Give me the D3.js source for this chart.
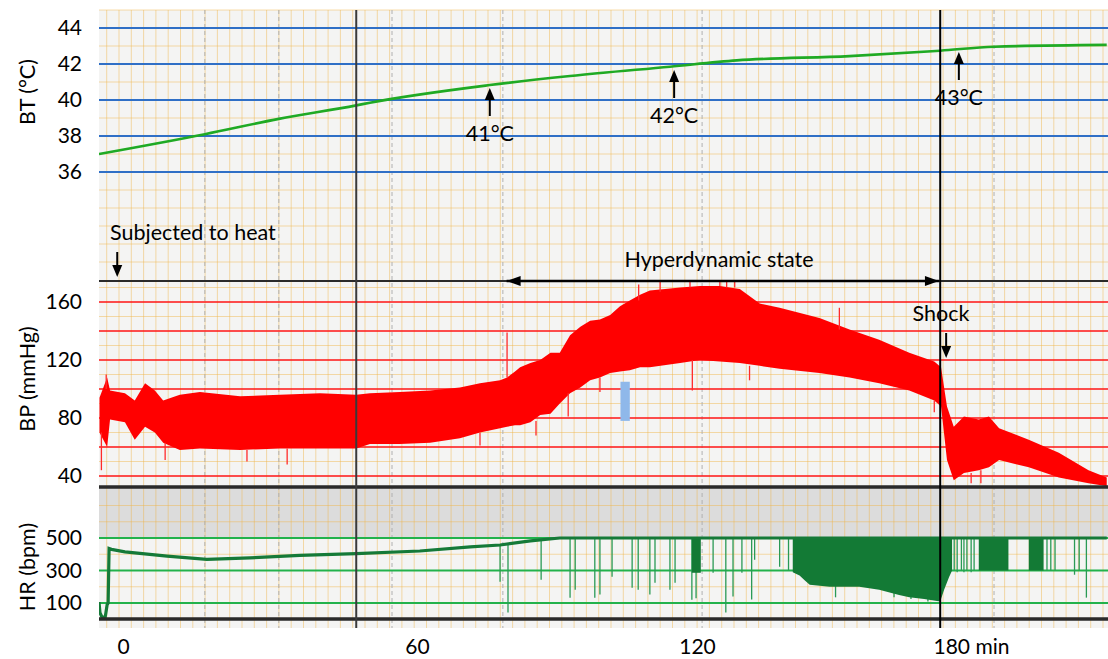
<!DOCTYPE html>
<html>
<head>
<meta charset="utf-8">
<script src="https://cdn.jsdelivr.net/npm/d3@7"></script>
<style>
  body { margin: 0; background: #fff; }
  text { font-family: Lato, "Open Sans", sans-serif; fill: #000; }
</style>
</head>
<body>
<svg id="chart" width="1108" height="659"></svg>
<script>
// ---- data (time in minutes after heating started) ----
const timeTicks = [0, 60, 120, 180];

const btTicks = [44, 42, 40, 38, 36];
const btTime  = [-5, 16.7, 31.8, 47.6, 50.4, 75.6, 92.8, 114.2, 129.4, 156, 177.4, 190.1, 216.7];
const btValue = [37.0, 38.1, 38.95, 39.7, 39.85, 40.83, 41.33, 41.85, 42.2, 42.44, 42.74, 42.96, 43.06];

const bpTicks = [160, 120, 80, 40];
const bpTime = [-4.9, -3.3, -2.7, 0.4, 2.4, 4.5, 6.5, 8.2, 11.6, 15.7, 23.9, 32.0, 40.2, 47.6, 50.4, 56.5, 62.8, 69.2, 73.5, 77.8,
  79.3, 81.0, 82.1, 84.3, 86.4, 88.6, 90.6, 92.8, 95.0, 97.1, 99.2, 101.4, 103.5, 105.6, 107.8, 109.9, 116.4, 120.7, 125.4,
  130.1, 134.8, 139.5, 148.9, 156.0, 163.0, 170.1,
  176.0, 177.6, 179.0, 180.6, 183.0, 186.5, 188.9, 191.3, 198.3, 205.4, 212.4, 216.7];
const bpHigh = [94, 108, 99, 97, 92, 104, 99, 92, 96, 98, 95, 96, 97, 96, 97, 98, 99, 101, 104, 106,
  108, 112, 115, 118, 120, 125, 125, 137, 143, 147, 148, 151, 157, 161, 165, 168, 170, 171, 171,
  169, 159, 156, 149, 141, 134, 125,
  119, 115, 88, 74, 81, 79, 81, 73, 65, 56, 44, 39];
const bpLow = [70, 60, 79, 77, 65, 74, 70, 63, 58, 59, 58, 59, 59, 59, 62, 62, 63, 66, 70, 73,
  74, 75, 75, 77, 82, 83, 90, 97, 101, 106, 108, 111, 112, 113, 115, 115, 118, 120, 119,
  118, 116, 114, 111, 108, 104, 99,
  92, 88, 51, 37, 42, 44, 46, 51, 46, 39, 35, 33];
// single beats sticking out of the band
const bpSpikeT    = [-4.5, -3.5, 8.6, 25.3, 33.5, 73.5, 79.3, 85.5, 92.4, 99.2, 107.5, 112.1, 118.5, 119.0, 125.4, 127.0, 128.9,
  132.4, 153.6, 176.0, 184.7, 187.0];
const bpSpikeFrom = [70, 100, 63, 58, 59, 70, 108, 78, 97, 108, 161, 167, 170, 120, 171, 170, 170,
  116, 141, 92, 42, 44];
const bpSpikeTo   = [44, 110, 51, 50, 48, 61, 139, 68, 81, 98, 172, 174, 174, 99, 174, 174, 175,
  106, 156, 84, 35, 35];
// blue artefact on the BP record
const bpMarkT = [103.6, 105.6];
const bpMarkP = [105, 78];

const hrTicks = [500, 300, 100];
const hrTime  = [-5.0, -4.8, -4.4, -3.7, -3.3, -3.1, -2.9, -2.4, 0.4, 9.0, 17.1, 25.9, 36.1, 47.6, 60.6, 71.4, 77.8, 84.3, 90.6, 216.7];
const hrValue = [106, 40, 14, 14, 90, 100, 435, 430, 415, 388, 368, 378, 393, 404, 420, 445, 457, 482, 500, 500];
const hrSpikeT = [77.8, 79.5, 86.6, 92.8, 93.9, 98.1, 99.2, 101.8, 106.1, 107.4, 109.9, 111.0, 114.2, 115.3, 118.9, 119.8,
  123.8, 126.8, 128.5, 130.6, 132.9, 133.6, 139.5, 141.6, 152.7, 154.8, 166.5, 170.5, 174.5,
  180.7, 181.4, 182.4, 183.0, 183.7, 184.7, 185.4, 202.6, 203.5, 204.5, 209.1, 210.2, 211.9];
const hrSpikeLow = [231, 42, 243, 133, 182, 133, 152, 262, 194, 182, 152, 225, 182, 225, 120, 130,
  286, 42, 140, 286, 121, 366, 323, 300, 135, 210, 135, 125, 110,
  300, 290, 300, 290, 300, 290, 300, 300, 300, 300, 274, 300, 133];
const hrBlockStart = [118.9, 186.5, 198.3];
const hrBlockEnd   = [120.9, 193.5, 201.8];
const hrBlockLow   = [286, 300, 300];
const hrBurstT   = [142.6, 144.2, 145.4, 146.6, 151.3, 158.3, 163.0, 167.7, 170.1, 173.6, 177.4, 178.3, 179.5, 180.2];
const hrBurstLow = [290, 270, 240, 213, 200, 200, 182, 150, 135, 125, 110, 180, 260, 300];

// chart paper marks
const eventLines = [47.6, 177.4];
const paperMarks = [16.7, 31.8, 54.9, 78.4, 121.2, 190.1];
const btNotes = ["41°C", "42°C", "43°C"];
const btNoteT = [75.6, 115.1, 181.8];
const btNoteV = [41, 42, 43];

// ---- scales ----
const svg = d3.select("#chart");
const L = 99, R = 1108, T = 10, B = 628;

const x = d3.scaleLinear().domain([-5, 0, 60, 120, 217]).range([99, 123, 417, 697, 1108]);
const yBT = d3.scaleLinear().domain([44, 36]).range([28, 172]);
const yBP = d3.scaleLinear().domain([160, 40]).range([302, 476]);
const yHR = d3.scaleLinear().domain([500, 100]).range([538, 603]);

svg.append("defs").append("clipPath").attr("id", "paper")
  .append("rect").attr("x", L).attr("y", T).attr("width", R - L).attr("height", B - T);
svg.select("defs").append("clipPath").attr("id", "bpclip")
  .append("rect").attr("x", L).attr("y", 282).attr("width", R - L).attr("height", 204);

// paper
svg.append("rect").attr("x", L).attr("y", T).attr("width", R - L).attr("height", B - T).attr("fill", "#f4f4f3");
svg.append("rect").attr("x", L).attr("y", 488).attr("width", R - L).attr("height", 49).attr("fill", "#dcdcdc");

// orange paper grid
const grid = svg.append("g").attr("stroke", "#f0b445").attr("stroke-opacity", 0.45).attr("stroke-width", 1);
d3.range(106.7, R, 12.3).forEach(gx => {
  grid.append("line").attr("x1", gx).attr("x2", gx).attr("y1", T).attr("y2", B);
});
const hLines = [45, 43, 41, 39, 37, 35, 34, 33, 32, 31].map(v => yBT(v))
  .concat([170, 150, 130, 110, 90, 70, 50].map(v => yBP(v)))
  .concat([700, 600, 400, 200].map(v => yHR(v)));
hLines.forEach(gy => {
  grid.append("line").attr("x1", L).attr("x2", R).attr("y1", gy).attr("y2", gy);
});

// time marks printed on paper
svg.append("g").selectAll("line").data(paperMarks).join("line")
  .attr("x1", d => x(d)).attr("x2", d => x(d)).attr("y1", T).attr("y2", B)
  .attr("stroke", "#b0b0b0").attr("stroke-width", 1).attr("stroke-dasharray", "4,3");

// reference lines per channel
svg.append("g").selectAll("line").data(btTicks).join("line")
  .attr("x1", L).attr("x2", R).attr("y1", d => yBT(d)).attr("y2", d => yBT(d))
  .attr("stroke", "#2f6fc6").attr("stroke-width", 2);
svg.append("g").selectAll("line").data(d3.range(160, 39, -20)).join("line")
  .attr("x1", L).attr("x2", R).attr("y1", d => yBP(d)).attr("y2", d => yBP(d))
  .attr("stroke", "#ff1414").attr("stroke-width", 1.6);
svg.append("g").selectAll("line").data(hrTicks).join("line")
  .attr("x1", L).attr("x2", R).attr("y1", d => yHR(d)).attr("y2", d => yHR(d))
  .attr("stroke", "#22b24c").attr("stroke-width", 2);

// BT trace
const btData = btTime.map((t, i) => [t, btValue[i]]);
svg.append("path").datum(btData)
  .attr("clip-path", "url(#paper)")
  .attr("fill", "none").attr("stroke", "#1faa24").attr("stroke-width", 2.6)
  .attr("d", d3.line().curve(d3.curveMonotoneX).x(d => x(d[0])).y(d => yBT(d[1])));

// BP trace
const bpData = bpTime.map((t, i) => ({ t, hi: bpHigh[i], lo: bpLow[i] }));
const bpG = svg.append("g").attr("clip-path", "url(#bpclip)");
bpG.append("path").datum(bpData)
  .attr("fill", "#ff0000")
  .attr("d", d3.area().x(d => x(d.t)).y0(d => yBP(d.lo)).y1(d => yBP(d.hi)));
bpG.selectAll("line.spike").data(bpSpikeT).join("line")
  .attr("x1", d => x(d)).attr("x2", d => x(d))
  .attr("y1", (d, i) => yBP(bpSpikeFrom[i])).attr("y2", (d, i) => yBP(bpSpikeTo[i]))
  .attr("stroke", "#ff2a2a").attr("stroke-width", 1.3);
bpG.append("rect")
  .attr("x", x(bpMarkT[0])).attr("width", x(bpMarkT[1]) - x(bpMarkT[0]))
  .attr("y", yBP(bpMarkP[0])).attr("height", yBP(bpMarkP[1]) - yBP(bpMarkP[0]))
  .attr("fill", "#8fb8ea");

// HR trace
const hrG = svg.append("g").attr("clip-path", "url(#paper)");
const hrAt = d3.scaleLinear().domain(hrTime).range(hrValue).clamp(true);
hrG.selectAll("line").data(hrSpikeT).join("line")
  .attr("x1", d => x(d)).attr("x2", d => x(d))
  .attr("y1", d => yHR(hrAt(d))).attr("y2", (d, i) => yHR(hrSpikeLow[i]))
  .attr("stroke", "#2a9a55").attr("stroke-width", 1.3);
hrG.append("g").selectAll("rect").data(hrBlockStart).join("rect")
  .attr("x", d => x(d)).attr("width", (d, i) => x(hrBlockEnd[i]) - x(d))
  .attr("y", yHR(500)).attr("height", (d, i) => yHR(hrBlockLow[i]) - yHR(500))
  .attr("fill", "#137a35");
hrG.append("path").datum(hrBurstT.map((t, i) => [t, hrBurstLow[i]]))
  .attr("fill", "#137a35")
  .attr("d", d3.area().x(d => x(d[0])).y0(d => yHR(d[1])).y1(yHR(500)));
hrG.append("path").datum(hrTime.map((t, i) => [t, hrValue[i]]))
  .attr("fill", "none").attr("stroke", "#157a38").attr("stroke-width", 3.2)
  .attr("d", d3.line().x(d => x(d[0])).y(d => yHR(d[1])));

// black frame lines of the record
const frame = svg.append("g").attr("stroke", "#2a2a2a");
frame.append("line").attr("x1", L).attr("x2", R).attr("y1", 281).attr("y2", 281).attr("stroke-width", 2.2);
frame.append("line").attr("x1", L).attr("x2", R).attr("y1", 487).attr("y2", 487).attr("stroke-width", 3.5);
frame.append("line").attr("x1", L).attr("x2", R).attr("y1", 619).attr("y2", 619).attr("stroke-width", 3.5);
svg.append("g").selectAll("line").data(eventLines).join("line")
  .attr("x1", d => x(d)).attr("x2", d => x(d)).attr("y1", T).attr("y2", B)
  .attr("stroke", (d, i) => i === 0 ? "#3a3a3a" : "#000").attr("stroke-width", 2);

// ---- axes ----
function styleAxis(g, size) {
  g.select(".domain").remove();
  g.selectAll("text").attr("font-size", size).attr("fill", "#000")
    .style("font-family", "Lato, 'Open Sans', sans-serif");
}
svg.append("g").attr("transform", "translate(82,0)")
  .call(d3.axisLeft(yBT).tickValues(btTicks).tickSize(0).tickPadding(0))
  .call(g => styleAxis(g, 21));
svg.append("g").attr("transform", "translate(82,0)")
  .call(d3.axisLeft(yBP).tickValues(bpTicks).tickSize(0).tickPadding(0))
  .call(g => styleAxis(g, 21));
svg.append("g").attr("transform", "translate(82,0)")
  .call(d3.axisLeft(yHR).tickValues(hrTicks).tickSize(0).tickPadding(0))
  .call(g => styleAxis(g, 21));

const xAxis = svg.append("g").attr("transform", "translate(0,639)")
  .call(d3.axisBottom(x).tickValues(timeTicks).tickSize(0).tickPadding(0).tickFormat(d3.format("d")))
  .call(g => styleAxis(g, 21));
xAxis.selectAll(".tick text").filter(d => d === 180).each(function () {
  const w = this.getComputedTextLength();
  d3.select(this).attr("text-anchor", "start").attr("x", -w / 2).text("180 min");
});

const titles = [["BT (°C)", 92], ["BP (mmHg)", 379], ["HR (bpm)", 567]];
svg.append("g").selectAll("text").data(titles).join("text")
  .attr("transform", d => `translate(27,${d[1]}) rotate(-90)`)
  .attr("text-anchor", "middle").attr("dominant-baseline", "central")
  .attr("font-size", 21.5).text(d => d[0]);

// ---- annotations ----
const ann = svg.append("g");
const noteSize = 21.5;
function vArrow(x0, yTail, yTip) {
  const dir = Math.sign(yTip - yTail);
  ann.append("line").attr("x1", x0).attr("x2", x0).attr("y1", yTail).attr("y2", yTip - dir * 8)
    .attr("stroke", "#000").attr("stroke-width", 2);
  ann.append("path").attr("fill", "#000")
    .attr("d", `M${x0},${yTip} L${x0 - 5},${yTip - dir * 12} L${x0 + 5},${yTip - dir * 12} Z`);
}
function hHead(x0, y0, dir) {
  ann.append("path").attr("fill", "#000")
    .attr("d", `M${x0},${y0} L${x0 - dir * 14},${y0 - 5} L${x0 - dir * 14},${y0 + 5} Z`);
}

btNotes.forEach((label, i) => {
  const cx = x(btNoteT[i]);
  const tip = yBT(btNoteV[i]) + 6;
  vArrow(cx, tip + 28, tip);
  ann.append("text").attr("x", cx).attr("y", tip + 45)
    .attr("text-anchor", "middle").attr("dominant-baseline", "central")
    .attr("font-size", noteSize).text(label);
});

ann.append("text").attr("x", 110).attr("y", 232).attr("dominant-baseline", "central")
  .attr("font-size", noteSize).text("Subjected to heat");
vArrow(x(-1.2), 252, 277);

ann.append("text").attr("x", 719).attr("y", 259).attr("text-anchor", "middle")
  .attr("dominant-baseline", "central").attr("font-size", noteSize).text("Hyperdynamic state");
ann.append("line").attr("x1", x(79.2)).attr("x2", x(177.1)).attr("y1", 281).attr("y2", 281)
  .attr("stroke", "#000").attr("stroke-width", 2.4);
hHead(x(79.2), 281, -1);
hHead(x(177.1), 281, 1);

ann.append("text").attr("x", 941).attr("y", 313).attr("text-anchor", "middle")
  .attr("dominant-baseline", "central").attr("font-size", noteSize).text("Shock");
vArrow(x(178.8), 333, 358);
</script>
</body>
</html>
